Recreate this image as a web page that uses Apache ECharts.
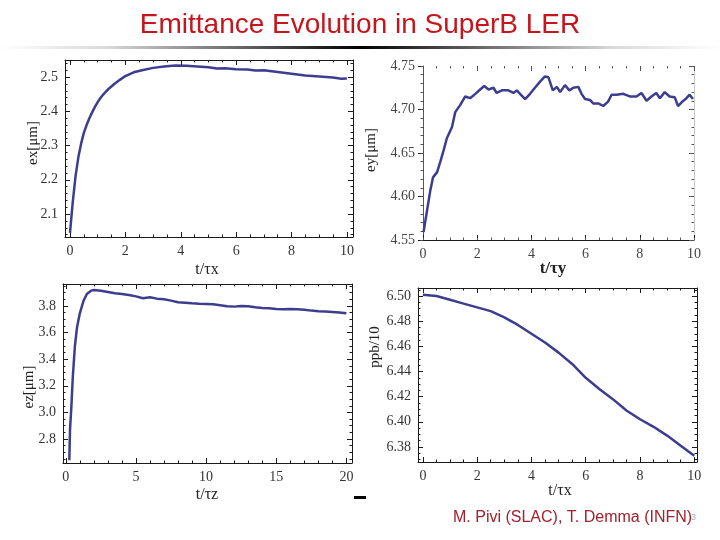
<!DOCTYPE html>
<html><head><meta charset="utf-8">
<script src="https://cdn.jsdelivr.net/npm/echarts@6/dist/echarts.min.js"></script>
<style>html,body{margin:0;padding:0;background:#fff}#c{width:720px;height:540px}</style>
</head><body><div id="c"></div>
<script>
// ---- data ----
const exT = [0, 0.05, 0.1, 0.2, 0.3, 0.4, 0.5, 0.6, 0.7, 0.8, 0.9, 1.0, 1.1, 1.2, 1.3, 1.4, 1.6, 1.8, 2.0, 2.3, 2.6, 3.0, 3.4, 3.8, 4.2, 4.6, 5.0, 5.3, 5.6, 6.0, 6.4, 6.7, 7.0, 7.5, 8.0, 8.5, 9.0, 9.5, 9.8, 10.0];
const exV = [2.045, 2.09, 2.135, 2.21, 2.265, 2.305, 2.337, 2.36, 2.38, 2.397, 2.413, 2.427, 2.439, 2.449, 2.458, 2.466, 2.480, 2.492, 2.503, 2.514, 2.520, 2.527, 2.531, 2.534, 2.533, 2.531, 2.529, 2.525, 2.526, 2.523, 2.522, 2.519, 2.520, 2.515, 2.510, 2.505, 2.502, 2.499, 2.495, 2.496];

const eyT = [0.02, 0.15, 0.27, 0.37, 0.52, 0.64, 0.76, 0.88, 1.07, 1.19, 1.37, 1.56, 1.74, 1.93, 2.11, 2.26, 2.42, 2.60, 2.72, 2.91, 3.15, 3.34, 3.46, 3.58, 3.77, 3.95, 4.13, 4.32, 4.50, 4.63, 4.79, 4.94, 5.06, 5.24, 5.40, 5.55, 5.73, 5.85, 5.98, 6.16, 6.28, 6.47, 6.65, 6.83, 6.96, 7.14, 7.39, 7.63, 7.88, 8.06, 8.25, 8.43, 8.61, 8.74, 8.92, 9.10, 9.29, 9.41, 9.57, 9.72, 9.84, 9.96];
const eyV = [4.559, 4.584, 4.607, 4.622, 4.628, 4.640, 4.653, 4.667, 4.680, 4.697, 4.705, 4.715, 4.713, 4.718, 4.723, 4.727, 4.723, 4.725, 4.719, 4.722, 4.722, 4.719, 4.722, 4.718, 4.712, 4.718, 4.725, 4.732, 4.738, 4.737, 4.722, 4.726, 4.720, 4.728, 4.722, 4.725, 4.726, 4.718, 4.712, 4.711, 4.707, 4.707, 4.704, 4.709, 4.717, 4.717, 4.718, 4.715, 4.715, 4.719, 4.710, 4.715, 4.719, 4.713, 4.720, 4.715, 4.714, 4.704, 4.709, 4.713, 4.717, 4.712];

const ezT = [0.25, 0.3, 0.4, 0.5, 0.65, 0.8, 1.0, 1.25, 1.5, 1.8, 2.0, 2.5, 3.0, 3.5, 4.0, 4.5, 5.0, 5.5, 6.0, 6.5, 7.0, 7.5, 8.0, 8.5, 9.0, 9.5, 10.0, 10.5, 11.0, 11.5, 12.0, 12.5, 13.0, 13.5, 14.0, 14.5, 15.0, 15.5, 16.0, 16.5, 17.0, 17.5, 18.0, 18.5, 19.0, 19.5, 20.0];
const ezV = [2.64, 2.87, 3.05, 3.27, 3.50, 3.64, 3.745, 3.835, 3.89, 3.915, 3.92, 3.915, 3.905, 3.895, 3.89, 3.882, 3.872, 3.858, 3.865, 3.855, 3.85, 3.84, 3.828, 3.825, 3.82, 3.817, 3.815, 3.812, 3.805, 3.798, 3.795, 3.80, 3.798, 3.79, 3.785, 3.782, 3.778, 3.775, 3.778, 3.776, 3.772, 3.765, 3.76, 3.758, 3.755, 3.75, 3.745];

const ppbT = [0, 0.5, 1.0, 1.5, 2.0, 2.5, 3.0, 3.5, 4.0, 4.5, 5.0, 5.5, 6.0, 6.5, 7.0, 7.5, 8.0, 8.5, 9.0, 9.5, 10.0];
const ppbV = [6.501, 6.500, 6.497, 6.494, 6.491, 6.488, 6.483, 6.477, 6.470, 6.463, 6.455, 6.446, 6.435, 6.426, 6.418, 6.409, 6.402, 6.396, 6.389, 6.381, 6.373];

const titleText = 'Emittance Evolution in SuperB LER';
const footerText = 'M. Pivi (SLAC), T. Demma (INFN)';
const axisNames = ['ex[μm]', 't/τx', 'ey[μm]', 't/τy', 'ez[μm]', 't/τz', 'ppb/10', 't/τx'];

// ---- build ----
const SERIF = '"Liberation Serif","Times New Roman",serif';
const SANS = '"Liberation Sans",Arial,sans-serif';
const grids = [], xAxes = [], yAxes = [], series = [];
function isMul(v, s) { const r = v / s; return Math.abs(r - Math.round(r)) < 1e-6; }

function addPanel(p) {
  const gi = grids.length;
  grids.push(Object.assign({}, p.rect));
  grids.push(Object.assign({}, p.rect));
  const frameC = {color: '#1a1a1a', width: 1};
  const lightC = {color: p.frameColor || '#1a1a1a', width: 1};
  const lab = (ax, m) => ({show: true, fontFamily: SERIF, fontSize: 14, color: p.labelColor || '#333', margin: m,
    formatter: v => isMul(v, ax.step) ? v.toFixed(ax.dec) : ''});
  const common = {type: 'value', splitLine: {show: false}, silent: true};
  const xi = xAxes.length, yi = yAxes.length;
  xAxes.push(Object.assign({}, common, {gridIndex: gi, position: 'bottom', min: p.x.min, max: p.x.max, splitNumber: p.x.split,
    axisLine: {show: true, onZero: false, lineStyle: frameC}, axisTick: {show: true, inside: true, length: 5, lineStyle: frameC},
    axisLabel: lab(p.x, 7)}));
  xAxes.push(Object.assign({}, common, {gridIndex: gi, position: 'top', min: p.x.min, max: p.x.max, splitNumber: p.x.split,
    axisLine: {show: p.frame, onZero: false, lineStyle: frameC}, axisTick: {show: true, inside: true, length: 5, lineStyle: lightC},
    axisLabel: {show: false}}));
  yAxes.push(Object.assign({}, common, {gridIndex: gi, position: 'left', min: p.y.min, max: p.y.max, splitNumber: p.y.split,
    axisLine: {show: true, onZero: false, lineStyle: p.leftOut ? lightC : frameC}, axisTick: {show: true, inside: !p.leftOut, length: 5, lineStyle: frameC},
    axisLabel: lab(p.y, p.leftOut ? 8 : 7)}));
  yAxes.push(Object.assign({}, common, {gridIndex: gi, position: 'right', min: p.y.min, max: p.y.max, splitNumber: p.y.split,
    axisLine: {show: true, onZero: false, lineStyle: p.frame ? frameC : {color: '#c8c8c8', width: 1}}, axisTick: {show: true, inside: true, length: 5, lineStyle: lightC},
    axisLabel: {show: false}}));
  const minorX = (pos) => Object.assign({}, common, {gridIndex: gi + 1, position: pos, min: p.x.min, max: p.x.max, splitNumber: p.x.msplit,
    axisLine: {show: false, onZero: false}, axisTick: {show: true, inside: true, length: 2.5, lineStyle: lightC}, axisLabel: {show: false}});
  const minorY = (pos, inside) => Object.assign({}, common, {gridIndex: gi + 1, position: pos, min: p.y.min, max: p.y.max, splitNumber: p.y.msplit,
    axisLine: {show: false, onZero: false}, axisTick: {show: true, inside: inside, length: 2.5, lineStyle: lightC}, axisLabel: {show: false}});
  xAxes.push(minorX('bottom'));
  xAxes.push(minorX('top'));
  yAxes.push(minorY('left', !p.leftOut));
  yAxes.push(minorY('right', true));
  series.push({type: 'line', xAxisIndex: xi, yAxisIndex: yi, data: p.t.map((t, i) => [t, p.v[i]]),
    showSymbol: false, symbol: 'none', smooth: false, animation: false,
    lineStyle: {color: '#3d3d8f', width: 2.5}});
  series.push({type: 'line', xAxisIndex: xi + 2, yAxisIndex: yi + 2, data: [], showSymbol: false});
}

addPanel({rect: {left: 65, top: 60, width: 288, height: 177}, frame: true,
  x: {min: -0.18, max: 10.22, split: 5, msplit: 20, step: 2, dec: 0},
  y: {min: 2.033, max: 2.55, split: 5, msplit: 25, step: 0.1, dec: 1}, t: exT, v: exV});
addPanel({rect: {left: 423, top: 66, width: 271, height: 174}, frame: false, leftOut: true, frameColor: '#555', labelColor: '#444',
  x: {min: 0, max: 10, split: 5, msplit: 20, step: 2, dec: 0},
  y: {min: 4.55, max: 4.75, split: 4, msplit: 20, step: 0.05, dec: 2}, t: eyT, v: eyV});
addPanel({rect: {left: 63, top: 284, width: 289, height: 179}, frame: true,
  x: {min: -0.2, max: 20.4, split: 4, msplit: 20, step: 5, dec: 0},
  y: {min: 2.62, max: 3.965, split: 7, msplit: 27, step: 0.2, dec: 1}, t: ezT, v: ezV});
addPanel({rect: {left: 418, top: 288, width: 279, height: 174}, frame: true,
  x: {min: -0.18, max: 10.1, split: 5, msplit: 20, step: 2, dec: 0},
  y: {min: 6.368, max: 6.5064, split: 7, msplit: 28, step: 0.02, dec: 2}, t: ppbT, v: ppbV});

function vText(txt, x, y, size, extra) {
  return Object.assign({type: 'text', x: x, y: y, rotation: Math.PI / 2, silent: true,
    style: {text: txt, fontFamily: SERIF, fontSize: size, fill: '#222', align: 'center', verticalAlign: 'middle'}}, extra || {});
}
function hText(txt, x, y, size, weight) {
  return {type: 'text', x: x, y: y, silent: true,
    style: {text: txt, fontFamily: SERIF, fontSize: size, fontWeight: weight || 'normal', fill: '#222', align: 'center', verticalAlign: 'middle'}};
}

const graphic = [
  {type: 'rect', shape: {x: 0, y: 46, width: 720, height: 3}, silent: true,
    style: {fill: new echarts.graphic.LinearGradient(0, 0, 1, 0, [
      {offset: 0, color: '#ffffff'}, {offset: 0.15, color: '#d8d8d8'}, {offset: 0.5, color: '#000000'},
      {offset: 0.85, color: '#d8d8d8'}, {offset: 1, color: '#ffffff'}])}},
  vText(axisNames[0], 33, 143, 15),
  hText(axisNames[1], 207, 270, 16),
  vText(axisNames[2], 371, 150, 15),
  hText(axisNames[3], 553, 269, 17, 'bold'),
  vText(axisNames[4], 29, 387, 15),
  hText(axisNames[5], 207, 495, 16),
  vText(axisNames[6], 375, 347, 15),
  hText(axisNames[7], 560, 491, 16),
  {type: 'rect', shape: {x: 354, y: 496, width: 12, height: 3}, style: {fill: '#000'}, silent: true},
  {type: 'text', x: 453, y: 518, silent: true,
    style: {text: footerText, fontFamily: SANS, fontSize: 16, fill: '#a3212b', align: 'left', verticalAlign: 'middle'}},
  {type: 'text', x: 691, y: 518, silent: true,
    style: {text: '3', fontFamily: SANS, fontSize: 9, fill: '#aaaaaa', align: 'left', verticalAlign: 'middle'}}
];

const chart = echarts.init(document.getElementById('c'), null, {renderer: 'canvas'});
chart.setOption({
  animation: false,
  backgroundColor: '#ffffff',
  title: {text: titleText, left: 'center', top: 6,
    textStyle: {fontFamily: SANS, fontSize: 28, fontWeight: 'normal', color: '#c4161c'}},
  grid: grids, xAxis: xAxes, yAxis: yAxes, series: series, graphic: graphic
});
</script>
</body></html>
